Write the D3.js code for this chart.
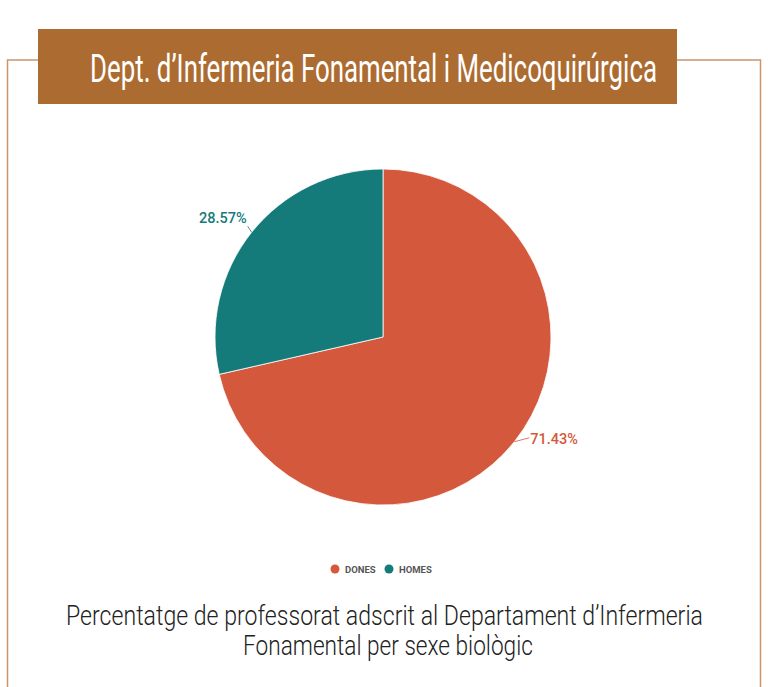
<!DOCTYPE html>
<html>
<head>
<meta charset="utf-8">
<script src="https://cdn.jsdelivr.net/npm/d3@7"></script>
<style>
  body { margin: 0; background: #fff; }
  svg { display: block; }
</style>
</head>
<body>
<svg id="chart" width="768" height="687"></svg>
<script>
// chart data
var categories = ["DONES", "HOMES"];
var values = [71.43, 28.57];
var sliceColors = ["#d4583c", "#147b7a"];
var title = "Dept. d\u2019Infermeria Fonamental i Medicoquir\u00fargica";
var captionLines = ["Percentatge de professorat adscrit al Departament d\u2019Infermeria",
                    "Fonamental per sexe biol\u00f2gic"];

var svg = d3.select("#chart");
var brown = "#ac6c31", frame = "#c9956a";

// squeeze a text horizontally (condensed look) around its centre x
function condensed(sel, cx, y, width, size, weight, fill) {
  var g = sel.append("g");
  var t = g.append("text")
      .attr("text-anchor", "middle")
      .attr("font-family", "Roboto")
      .attr("font-weight", weight)
      .attr("font-size", size + "px")
      .attr("fill", fill);
  return function(str) {
    t.text(str);
    var w = t.node().getComputedTextLength();
    g.attr("transform", "translate(" + cx + "," + y + ") scale(" + (width / w) + ",1)");
  };
}

// frame lines
svg.append("path")
    .attr("d", "M38,60 H7.5 V687 M677,60 H760.5 V687")
    .attr("fill", "none")
    .attr("stroke", frame)
    .attr("stroke-width", 1.5);

// title banner
svg.append("rect")
    .attr("x", 38).attr("y", 29)
    .attr("width", 639).attr("height", 75)
    .attr("fill", brown);

condensed(svg, 373.5, 82, 567, 39, 400, "#fff")(title);

// pie
var cx = 383, cy = 337, r = 168;
var g = svg.append("g").attr("transform", "translate(" + cx + "," + cy + ")");

var data = categories.map(function(c, i) { return {name: c, value: values[i], color: sliceColors[i]}; });

var pie = d3.pie().sort(null).value(function(d) { return d.value; });
var arc = d3.arc().innerRadius(0).outerRadius(r);
var arcs = pie(data);

g.selectAll("path.slice")
    .data(arcs)
    .enter().append("path")
    .attr("class", "slice")
    .attr("d", arc)
    .attr("fill", function(d) { return d.data.color; })
    .attr("stroke", "#fff")
    .attr("stroke-width", 0.8);

// labels with short leader lines
var labelArc = d3.arc().innerRadius(r).outerRadius(r);
arcs.forEach(function(d) {
  var mid = (d.startAngle + d.endAngle) / 2;
  var p = labelArc.centroid(d);
  var right = Math.sin(mid) > 0;
  var end = [p[0] + (right ? 15 : -4), p[1] + (right ? -4 : -6)];
  g.append("line")
      .attr("x1", p[0]).attr("y1", p[1])
      .attr("x2", end[0]).attr("y2", end[1])
      .attr("stroke", d.data.color)
      .attr("stroke-width", 0.8);
  g.append("text")
      .attr("x", end[0] + (right ? 1 : -1))
      .attr("y", end[1] + (right ? 6 : -3))
      .attr("text-anchor", right ? "start" : "end")
      .attr("font-family", "Roboto")
      .attr("font-weight", 500)
      .attr("font-size", "14.5px")
      .attr("fill", d.data.color)
      .text(d3.format(".2f")(d.data.value) + "%");
});

// legend
var legend = svg.append("g").attr("transform", "translate(335,569)");
var lx = 0;
data.forEach(function(d) {
  legend.append("circle")
      .attr("cx", lx).attr("cy", 0).attr("r", 4.5)
      .attr("fill", d.color);
  legend.append("text")
      .attr("x", lx + 10).attr("y", 3.5)
      .attr("font-family", "Roboto")
      .attr("font-weight", 700)
      .attr("font-size", "9.5px")
      .attr("fill", "#555")
      .text(d.name);
  lx += 54;
});

// caption
condensed(svg, 384.5, 625, 637, 28, 300, "#222")(captionLines[0]);
condensed(svg, 388, 655, 290, 28, 300, "#222")(captionLines[1]);
</script>
</body>
</html>
